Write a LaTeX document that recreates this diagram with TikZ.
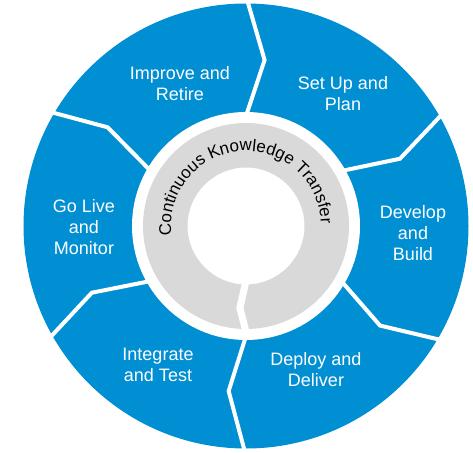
\documentclass[tikz,border=0pt]{standalone}
\usepackage{fontspec}
\setmainfont{Liberation Sans}
\usetikzlibrary{decorations.text}
\definecolor{ringblue}{HTML}{008FD3}
\definecolor{ringgray}{HTML}{D9D9D9}
\newcommand\arcfont{\fontsize{17}{17}\selectfont}

\begin{document}
\begin{tikzpicture}[x=1pt, y=1pt,
    phase/.style={text=white, align=center, inner sep=0pt, font=\fontsize{18}{21}\selectfont},
    cut/.style={draw=white, line width=4pt}]
    \useasboundingbox (-246,-226) rectangle (227,226);
    \fill[ringblue] (0,0) circle (222.5);
    \fill[white] (0,0) circle (114);
    \fill[ringgray, even odd rule] (0,0) circle (103) (0,0) circle (58.5);
    \draw[cut] (90:230) -- (83.6:167) -- (90:110);
    \draw[cut] (30:230) -- (23.6:168) -- (30:110);
    \draw[cut] (-30:230) -- (-36.6:167) -- (-30:110);
    \draw[cut] (-90:230) -- (-96:166) -- (-90:110);
    \draw[cut] (210:230) -- (203.4:168) -- (210:110);
    \draw[cut] (150:230) -- (144.5:170) -- (150:110);
    \draw[cut, line width=7pt] (-90:55) -- (-94.3:82) -- (-90:106);
    \path[decorate, decoration={text along path, text={|\arcfont|Continuous Knowledge Transfer}, text align=center}]
        (200:75) arc[start angle=200, end angle=-11, radius=75];
    \node[phase] (retire) at (-66,142) {Improve and\\Retire};
    \node[phase] (plan) at (97,132) {Set Up and\\Plan};
    \node[phase] (build) at (167,-7.5) {Develop\\and\\Build};
    \node[phase] (deliver) at (70,-144) {Deploy and\\Deliver};
    \node[phase] (test) at (-88,-139) {Integrate\\and Test};
    \node[phase] (monitor) at (-162,-1) {Go Live\\and\\Monitor};
\end{tikzpicture}
\end{document}
